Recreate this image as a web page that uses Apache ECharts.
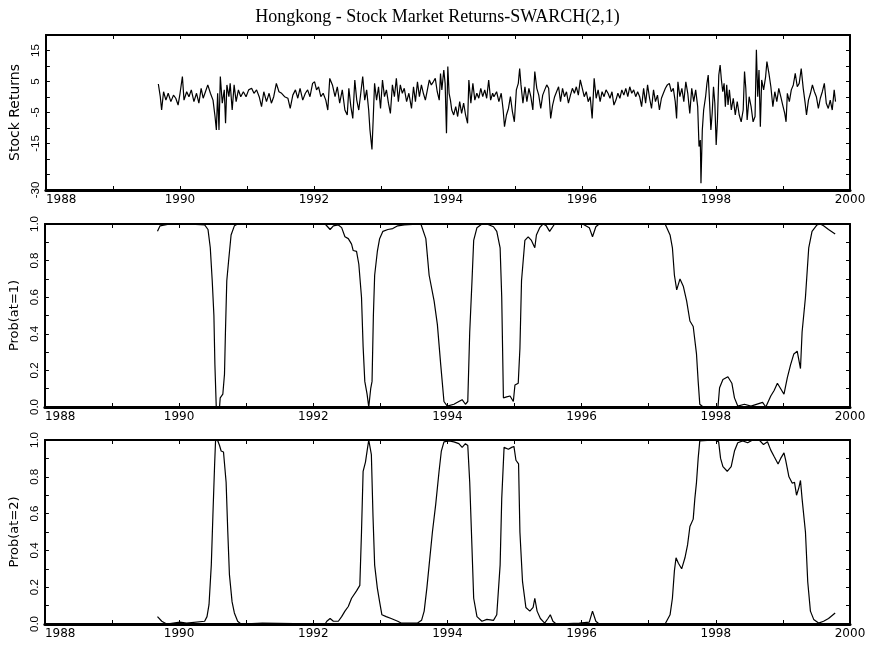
<!DOCTYPE html>
<html>
<head>
<meta charset="utf-8">
<script src="https://cdn.jsdelivr.net/npm/echarts@6/dist/echarts.min.js"></script>
<style>html,body{margin:0;padding:0;background:#fff}#c{width:875px;height:646px}</style>
</head>
<body>
<div id="c"></div>
<script>
var titleText = 'Hongkong - Stock Market Returns-SWARCH(2,1)';
var panelNames = ['Stock Returns', 'Prob(at=1)', 'Prob(at=2)'];
var yearTicks = [1988, 1990, 1992, 1994, 1996, 1998, 2000];
var returnTickLabels = [15, 5, -5, -15, -30];

var returns = [
[1989.678,4.2],[1989.707,0.1],[1989.727,-4.2],[1989.756,1.7],[1989.791,-1.0],[1989.825,1.2],[1989.865,-1.5],[1989.904,0.6],[1989.938,-0.4],[1989.973,-2.6],
[1990.002,1.2],[1990.037,6.6],[1990.061,-1.0],[1990.101,1.7],[1990.135,0.1],[1990.170,2.3],[1990.209,-1.5],[1990.248,1.2],[1990.283,-2.0],[1990.317,2.8],
[1990.347,-0.4],[1990.381,1.7],[1990.416,3.9],[1990.455,1.2],[1990.494,-1.0],[1990.524,-6.3],[1990.544,-10.6],[1990.563,1.2],[1990.583,-10.6],[1990.603,6.6],
[1990.632,-2.0],[1990.662,2.3],[1990.681,-8.5],[1990.701,3.9],[1990.731,0.1],[1990.750,4.4],[1990.780,-4.2],[1990.809,3.9],[1990.839,-1.5],[1990.873,2.3],
[1990.908,0.1],[1990.947,1.7],[1990.987,0.1],[1991.026,2.3],[1991.070,2.8],[1991.105,1.2],[1991.144,2.3],[1991.183,0.1],[1991.218,-3.1],[1991.252,1.7],
[1991.292,-1.5],[1991.331,1.2],[1991.365,-2.0],[1991.400,0.1],[1991.439,4.4],[1991.478,1.7],[1991.518,1.2],[1991.562,0.1],[1991.611,-0.4],[1991.646,-3.7],
[1991.685,0.6],[1991.724,2.3],[1991.759,-0.4],[1991.793,2.8],[1991.833,-1.0],[1991.872,1.2],[1991.906,2.3],[1991.941,0.1],[1991.980,4.4],[1992.010,4.9],
[1992.039,2.3],[1992.069,3.3],[1992.103,0.1],[1992.138,1.2],[1992.177,-1.0],[1992.207,-4.2],[1992.236,6.0],[1992.276,3.9],[1992.315,0.1],[1992.349,3.3],
[1992.384,-2.0],[1992.423,2.3],[1992.462,-4.2],[1992.497,-5.8],[1992.521,2.8],[1992.551,-3.1],[1992.580,-6.9],[1992.610,5.5],[1992.639,-1.0],[1992.669,-4.2],
[1992.699,1.2],[1992.728,6.6],[1992.758,-1.0],[1992.787,2.3],[1992.817,-4.2],[1992.836,-10.6],[1992.866,-16.9],[1992.886,-6.3],[1992.905,4.4],[1992.935,-1.0],
[1992.964,3.3],[1992.994,-3.7],[1993.023,5.5],[1993.053,0.1],[1993.082,2.3],[1993.112,-2.0],[1993.141,-5.3],[1993.171,3.9],[1993.201,0.1],[1993.230,6.0],
[1993.260,-1.5],[1993.289,3.9],[1993.319,1.2],[1993.348,2.8],[1993.383,-1.5],[1993.417,1.2],[1993.456,-3.7],[1993.486,3.3],[1993.515,-1.5],[1993.545,4.9],
[1993.574,0.1],[1993.604,3.9],[1993.633,1.2],[1993.663,-1.0],[1993.693,2.3],[1993.722,5.5],[1993.752,3.9],[1993.781,4.9],[1993.811,6.0],[1993.840,1.7],
[1993.870,-1.0],[1993.889,7.6],[1993.909,2.3],[1993.938,8.7],[1993.958,4.4],[1993.978,-11.7],[1993.998,9.8],[1994.017,1.2],[1994.037,-1.0],[1994.057,-4.2],
[1994.086,-5.8],[1994.116,-3.1],[1994.145,-6.3],[1994.175,-1.5],[1994.204,-5.3],[1994.234,-2.0],[1994.263,-5.8],[1994.293,-8.5],[1994.312,5.5],[1994.342,-2.0],
[1994.372,4.4],[1994.401,-1.0],[1994.431,1.2],[1994.460,-0.4],[1994.490,2.8],[1994.519,0.1],[1994.549,2.3],[1994.578,-0.4],[1994.608,5.5],[1994.637,-1.0],
[1994.667,1.2],[1994.686,0.1],[1994.726,1.7],[1994.760,-1.5],[1994.795,1.2],[1994.824,-4.2],[1994.844,-9.6],[1994.873,-5.8],[1994.903,-3.7],[1994.932,0.1],
[1994.962,-4.7],[1994.991,-8.0],[1995.021,2.3],[1995.050,4.4],[1995.070,9.2],[1995.090,3.9],[1995.119,-2.0],[1995.149,3.3],[1995.178,-1.5],[1995.208,2.8],
[1995.237,0.1],[1995.267,-4.2],[1995.296,8.2],[1995.326,2.8],[1995.355,0.6],[1995.385,-3.7],[1995.414,0.6],[1995.444,2.3],[1995.474,3.9],[1995.503,2.8],
[1995.533,-6.9],[1995.562,-2.6],[1995.592,0.1],[1995.621,1.7],[1995.651,3.3],[1995.680,-1.5],[1995.710,2.8],[1995.739,0.1],[1995.769,1.7],[1995.798,-2.0],
[1995.828,0.6],[1995.857,2.8],[1995.887,1.2],[1995.916,3.3],[1995.946,0.6],[1995.975,5.5],[1996.005,2.8],[1996.034,0.1],[1996.064,1.7],[1996.093,-1.5],
[1996.123,0.1],[1996.152,-6.9],[1996.182,6.0],[1996.212,-0.4],[1996.241,2.3],[1996.271,-1.5],[1996.300,1.7],[1996.330,0.1],[1996.359,2.3],[1996.389,1.2],
[1996.418,-0.4],[1996.448,1.7],[1996.477,-2.6],[1996.507,-1.0],[1996.536,1.2],[1996.566,-0.4],[1996.595,2.3],[1996.625,0.6],[1996.654,2.8],[1996.684,0.1],
[1996.713,3.3],[1996.743,1.2],[1996.772,2.3],[1996.802,0.1],[1996.831,1.7],[1996.861,0.1],[1996.890,-3.1],[1996.920,2.8],[1996.950,-2.0],[1996.979,3.9],
[1997.009,-0.4],[1997.038,-3.7],[1997.068,2.3],[1997.097,-1.5],[1997.127,0.6],[1997.156,-4.2],[1997.186,-0.4],[1997.215,1.2],[1997.245,2.8],[1997.274,3.9],
[1997.304,4.4],[1997.333,1.7],[1997.363,2.8],[1997.392,-1.5],[1997.412,-6.9],[1997.432,4.9],[1997.461,0.1],[1997.491,2.8],[1997.520,-1.5],[1997.550,4.9],
[1997.579,1.2],[1997.609,-5.3],[1997.638,2.8],[1997.668,-1.5],[1997.697,2.3],[1997.727,-3.1],[1997.747,-16.0],[1997.766,-13.9],[1997.776,-27.8],[1997.796,-10.6],
[1997.816,-4.2],[1997.845,0.1],[1997.865,4.4],[1997.884,7.1],[1997.904,-1.5],[1997.924,-10.6],[1997.943,-5.3],[1997.963,3.3],[1997.983,-2.0],[1998.003,-15.5],
[1998.022,-7.4],[1998.042,7.1],[1998.062,10.3],[1998.081,5.5],[1998.101,1.7],[1998.121,4.4],[1998.140,-3.1],[1998.160,3.9],[1998.180,-2.6],[1998.200,2.3],
[1998.229,-4.2],[1998.258,-0.4],[1998.288,-5.8],[1998.317,-1.5],[1998.347,-5.8],[1998.376,-8.0],[1998.406,-4.2],[1998.426,8.2],[1998.445,2.8],[1998.465,-7.4],
[1998.495,0.1],[1998.524,-3.1],[1998.554,-8.0],[1998.583,-6.3],[1998.603,15.2],[1998.623,0.1],[1998.642,8.7],[1998.662,-9.6],[1998.682,5.5],[1998.711,2.3],
[1998.741,6.6],[1998.760,11.4],[1998.790,7.6],[1998.819,3.3],[1998.849,-3.1],[1998.878,1.7],[1998.908,-1.5],[1998.937,2.8],[1998.967,0.1],[1998.996,-2.6],
[1999.026,-5.3],[1999.046,-8.0],[1999.065,1.2],[1999.095,-1.5],[1999.124,2.3],[1999.154,3.9],[1999.183,7.6],[1999.213,3.3],[1999.242,4.4],[1999.272,9.2],
[1999.302,2.8],[1999.331,-2.0],[1999.351,-5.8],[1999.380,-1.0],[1999.410,1.2],[1999.439,3.9],[1999.469,1.7],[1999.498,0.1],[1999.528,-3.7],[1999.557,-0.4],
[1999.587,1.7],[1999.617,4.4],[1999.646,-2.0],[1999.676,-3.7],[1999.705,-1.0],[1999.735,-4.2],[1999.764,2.3],[1999.784,-1.5]
];

var prob1 = [
[1989.678,0.96],[1989.717,0.99],[1989.865,1.0],[1990.111,1.0],[1990.381,0.995],[1990.431,0.97],[1990.465,0.87],[1990.494,0.69],[1990.519,0.50],[1990.534,0.23],
[1990.554,0.0],[1990.603,0.0],[1990.613,0.05],[1990.652,0.07],[1990.677,0.18],[1990.691,0.41],[1990.711,0.69],[1990.741,0.81],[1990.775,0.94],[1990.824,0.99],
[1990.873,1.0],[1991.341,1.0],[1991.833,1.0],[1992.177,1.0],[1992.202,0.99],[1992.251,0.97],[1992.300,0.99],[1992.374,0.995],[1992.423,0.98],[1992.472,0.93],
[1992.522,0.92],[1992.571,0.89],[1992.595,0.855],[1992.645,0.85],[1992.679,0.78],[1992.719,0.6],[1992.743,0.33],[1992.768,0.14],[1992.802,0.07],[1992.827,0.0],
[1992.846,0.0],[1992.856,0.1],[1992.876,0.14],[1992.896,0.5],[1992.915,0.72],[1992.955,0.85],[1992.989,0.92],[1993.038,0.96],[1993.112,0.97],[1993.185,0.975],
[1993.259,0.99],[1993.358,0.995],[1993.604,1.0],[1993.628,0.99],[1993.678,0.92],[1993.727,0.72],[1993.801,0.58],[1993.850,0.45],[1993.900,0.23],[1993.948,0.03],
[1993.997,0.005],[1994.096,0.015],[1994.170,0.03],[1994.219,0.04],[1994.268,0.015],[1994.303,0.03],[1994.332,0.41],[1994.366,0.69],[1994.391,0.91],[1994.440,0.98],
[1994.514,1.0],[1994.588,1.0],[1994.686,0.985],[1994.735,0.96],[1994.785,0.87],[1994.809,0.6],[1994.834,0.05],[1994.883,0.055],[1994.933,0.06],[1994.982,0.03],
[1995.006,0.12],[1995.055,0.13],[1995.080,0.32],[1995.104,0.69],[1995.154,0.91],[1995.203,0.93],[1995.252,0.91],[1995.302,0.87],[1995.326,0.94],[1995.375,0.98],
[1995.424,1.0],[1995.474,0.99],[1995.523,0.96],[1995.597,1.0],[1995.966,1.0],[1996.015,1.0],[1996.114,0.98],[1996.162,0.93],[1996.212,0.985],[1996.261,1.0],
[1996.753,1.0],[1997.244,1.0],[1997.269,0.99],[1997.318,0.94],[1997.353,0.87],[1997.383,0.72],[1997.417,0.64],[1997.466,0.70],[1997.515,0.66],[1997.565,0.58],
[1997.614,0.47],[1997.663,0.44],[1997.712,0.29],[1997.737,0.14],[1997.761,0.015],[1997.811,0.0],[1998.032,0.0],[1998.056,0.105],[1998.106,0.15],[1998.180,0.165],
[1998.239,0.13],[1998.278,0.05],[1998.327,0.005],[1998.426,0.015],[1998.524,0.005],[1998.697,0.025],[1998.745,0.0],[1998.819,0.06],[1998.869,0.09],[1998.918,0.13],
[1998.967,0.10],[1999.016,0.07],[1999.066,0.16],[1999.114,0.23],[1999.163,0.29],[1999.213,0.305],[1999.262,0.21],[1999.286,0.41],[1999.336,0.6],[1999.385,0.87],
[1999.434,0.96],[1999.508,0.995],[1999.557,1.0],[1999.606,0.99],[1999.680,0.97],[1999.779,0.945]
];

var prob2 = [
[1989.678,0.04],[1989.742,0.015],[1989.815,0.0],[1990.012,0.01],[1990.111,0.005],[1990.381,0.015],[1990.416,0.04],[1990.446,0.105],[1990.480,0.32],[1990.504,0.59],
[1990.529,0.86],[1990.544,1.0],[1990.578,0.995],[1990.603,0.97],[1990.627,0.94],[1990.662,0.935],[1990.691,0.93],[1990.701,0.77],[1990.726,0.5],[1990.750,0.27],
[1990.790,0.12],[1990.824,0.06],[1990.873,0.015],[1990.923,0.0],[1991.242,0.005],[1992.177,0.0],[1992.202,0.015],[1992.251,0.03],[1992.300,0.015],[1992.374,0.015],
[1992.423,0.04],[1992.472,0.07],[1992.522,0.095],[1992.571,0.14],[1992.595,0.15],[1992.645,0.18],[1992.694,0.21],[1992.719,0.5],[1992.743,0.83],[1992.778,0.88],
[1992.802,0.94],[1992.827,1.0],[1992.851,1.0],[1992.866,0.92],[1992.890,0.59],[1992.915,0.32],[1992.955,0.195],[1992.989,0.12],[1993.023,0.05],[1993.087,0.04],
[1993.161,0.03],[1993.259,0.015],[1993.309,0.005],[1993.555,0.005],[1993.614,0.02],[1993.653,0.07],[1993.693,0.195],[1993.727,0.32],[1993.776,0.5],[1993.825,0.65],
[1993.875,0.83],[1993.909,0.94],[1993.948,0.99],[1994.022,0.995],[1994.096,0.99],[1994.170,0.98],[1994.219,0.96],[1994.268,0.98],[1994.303,0.97],[1994.332,0.77],
[1994.366,0.41],[1994.391,0.14],[1994.440,0.04],[1994.514,0.015],[1994.588,0.025],[1994.686,0.02],[1994.735,0.05],[1994.785,0.32],[1994.809,0.68],[1994.844,0.96],
[1994.908,0.95],[1994.957,0.96],[1994.991,0.965],[1995.021,0.89],[1995.060,0.87],[1995.080,0.5],[1995.119,0.23],[1995.169,0.09],[1995.228,0.07],[1995.277,0.09],
[1995.302,0.14],[1995.336,0.07],[1995.385,0.03],[1995.449,0.005],[1995.498,0.03],[1995.533,0.05],[1995.572,0.015],[1995.621,0.0],[1995.966,0.005],[1996.114,0.01],
[1996.162,0.07],[1996.212,0.015],[1996.261,0.0],[1997.244,0.0],[1997.269,0.01],[1997.318,0.05],[1997.353,0.14],[1997.383,0.29],[1997.407,0.36],[1997.442,0.33],
[1997.491,0.30],[1997.540,0.36],[1997.579,0.43],[1997.614,0.53],[1997.663,0.57],[1997.687,0.68],[1997.712,0.77],[1997.737,0.90],[1997.761,0.995],[1997.983,1.0],
[1998.042,0.99],[1998.071,0.90],[1998.106,0.855],[1998.170,0.83],[1998.229,0.855],[1998.278,0.94],[1998.327,0.985],[1998.401,0.995],[1998.475,0.985],[1998.549,1.0],
[1998.647,1.0],[1998.711,0.975],[1998.770,0.99],[1998.819,0.945],[1998.869,0.91],[1998.928,0.87],[1998.967,0.90],[1999.016,0.93],[1999.041,0.89],[1999.090,0.80],
[1999.140,0.765],[1999.173,0.77],[1999.203,0.70],[1999.237,0.74],[1999.262,0.78],[1999.286,0.68],[1999.336,0.50],[1999.370,0.23],[1999.410,0.07],[1999.459,0.025],
[1999.532,0.005],[1999.606,0.015],[1999.680,0.03],[1999.779,0.06]
];

var chart = echarts.init(document.getElementById('c'), null, {renderer: 'canvas'});

var grids = [
  {left: 37, top: 35, width: 813, height: 155},
  {left: 37, top: 224, width: 813, height: 183},
  {left: 37, top: 440, width: 813, height: 184}
];
var yRanges = [{min: -30, max: 20, interval: 5}, {min: 0, max: 1, interval: 0.1}, {min: 0, max: 1, interval: 0.1}];

function xBottom(i) {
  return {
    type: 'value', gridIndex: i, position: 'bottom', min: 1988, max: 2000, interval: 1,
    axisLine: {show: true, onZero: false, lineStyle: {color: '#000', width: 3}},
    axisTick: {show: true, inside: true, length: 4, lineStyle: {color: '#000', width: 1}},
    splitLine: {show: false},
    axisLabel: {
      show: true, margin: 4, color: '#000', fontFamily: 'DejaVu Sans', fontSize: 12,
      alignMinLabel: 'left', alignMaxLabel: 'center',
      formatter: function (v) { return yearTicks.indexOf(Math.round(v)) >= 0 ? String(Math.round(v)) : ''; }
    }
  };
}
function xTop(i) {
  return {
    type: 'value', gridIndex: i, position: 'top', min: 1988, max: 2000, interval: 1,
    axisLine: {show: true, onZero: false, lineStyle: {color: '#000', width: 2}},
    axisTick: {show: true, inside: true, length: 4, lineStyle: {color: '#000', width: 1}},
    splitLine: {show: false}, axisLabel: {show: false}
  };
}
function yLeft(i) {
  var r = yRanges[i];
  return {
    type: 'value', gridIndex: i, position: 'left', min: r.min, max: r.max, interval: r.interval,
    name: panelNames[i], nameLocation: 'middle', nameGap: 20, nameRotate: 90,
    nameTextStyle: {color: '#000', fontFamily: 'DejaVu Sans', fontSize: i === 0 ? 14 : 13},
    axisLine: {show: true, onZero: false, lineStyle: {color: '#000', width: 2}},
    axisTick: {show: true, inside: true, length: 4, lineStyle: {color: '#000', width: 1}},
    splitLine: {show: false},
    axisLabel: {
      show: true, rotate: 90, margin: 4, color: '#000', fontFamily: 'Liberation Sans', fontSize: 11.5,
      showMinLabel: true, showMaxLabel: true,
      formatter: function (v) {
        if (i === 0) {
          var k = Math.round(v);
          return returnTickLabels.indexOf(k) >= 0 ? String(k) : '';
        }
        var t = Math.round(v * 10);
        return t % 2 === 0 ? (t / 10).toFixed(1) : '';
      }
    }
  };
}
function yRight(i) {
  var r = yRanges[i];
  return {
    type: 'value', gridIndex: i, position: 'right', min: r.min, max: r.max, interval: r.interval,
    axisLine: {show: true, onZero: false, lineStyle: {color: '#000', width: 2}},
    axisTick: {show: true, inside: true, length: 4, lineStyle: {color: '#000', width: 1}},
    splitLine: {show: false}, axisLabel: {show: false}
  };
}

var xAxes = [], yAxes = [];
for (var i = 0; i < 3; i++) {
  xAxes.push(xBottom(i)); xAxes.push(xTop(i));
  yAxes.push(yLeft(i)); yAxes.push(yRight(i));
}
var seriesData = [returns, prob1, prob2];
var series = seriesData.map(function (d, i) {
  return {
    type: 'line', xAxisIndex: 2 * i, yAxisIndex: 2 * i, data: d,
    showSymbol: false, symbol: 'none', smooth: false,
    lineStyle: {color: '#000', width: 1.2}, clip: true
  };
});

chart.setOption({
  animation: false,
  backgroundColor: '#fff',
  title: {
    text: titleText, left: 'center', top: 3,
    textStyle: {fontFamily: 'Liberation Serif', fontSize: 18, fontWeight: 'normal', color: '#000'}
  },
  grid: grids,
  xAxis: xAxes,
  yAxis: yAxes,
  series: series
});
</script>
</body>
</html>
